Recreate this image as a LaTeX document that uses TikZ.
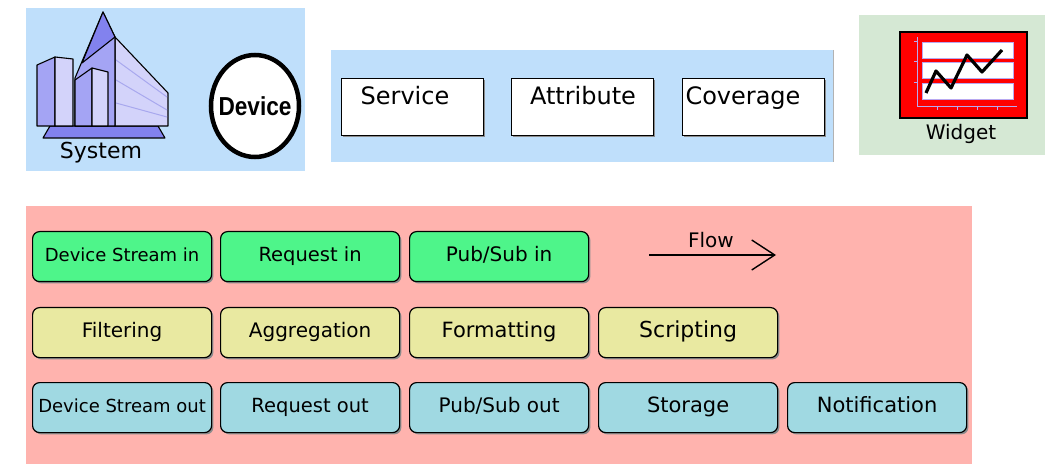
\documentclass[tikz,border=0pt]{standalone}
\usepackage{fontspec}
\setmainfont{DejaVu Sans}
\newfontfamily\devfont{Liberation Sans}
\usetikzlibrary{shadows,arrows.meta,shapes.geometric}
\definecolor{panelblue}{HTML}{BFDFFB}
\definecolor{panelgreen}{HTML}{D5E8D4}
\definecolor{panelpink}{HTML}{FFB3AE}
\definecolor{inbox}{HTML}{4EF58A}
\definecolor{procbox}{HTML}{E9E9A1}
\definecolor{outbox}{HTML}{A0D9E2}
\definecolor{bdark}{HTML}{8282EE}
\definecolor{bmid}{HTML}{A4A4F4}
\definecolor{blight}{HTML}{D3D3FA}
\definecolor{bline}{HTML}{A8A8EE}
\definecolor{lav}{HTML}{B8A8F0}
\tikzset{
  shade box/.style={drop shadow={shadow xshift=1.8pt,shadow yshift=-1.8pt,fill=black!45,opacity=1}},
  flowbox/.style={shade box,draw=black,line width=1.2pt,rounded corners=7pt,
    minimum width=179pt,minimum height=50pt,inner sep=0pt,anchor=north west,
    text height=0.9em,text depth=0pt,font=\fontsize{20}{22}\selectfont},
  entitybox/.style={shade box,draw=black,fill=white,line width=1.2pt,
    minimum width=142pt,minimum height=57pt,inner sep=0pt,anchor=north west},
  entitylabel/.style={anchor=base,inner sep=0pt,font=\fontsize{24}{26}\selectfont},
  building/.style={draw=black,line width=1.1pt,line join=round},
}
\begin{document}
\begin{tikzpicture}[x=1pt,y=-1pt]
\useasboundingbox (0,0) rectangle (1045,465);

% panels
\fill[panelblue] (26,8) rectangle (305,171);
\fill[panelblue] (331,50) rectangle (833,162);
\draw[black!30,line width=0.8pt] (833,50) -- (833,162);
\fill[panelgreen] (859,15) rectangle (1045,155);
\fill[panelpink] (26,206) rectangle (972,464);

% system icon
\draw[building,fill=bdark] (50,126) -- (158,126) -- (165,138) -- (43,138) -- cycle;
\draw[building,fill=blight] (115,37) -- (168,93) -- (168,126) -- (115,126) -- cycle;
\draw[bline,line width=1pt] (116,60) -- (167,97) (116,80) -- (167,110) (116,103) -- (167,117);
\draw[building,fill=bmid] (103,12) -- (115,37) -- (115,126) -- (75,126) -- (75,78) -- cycle;
\draw[building,fill=bdark] (103,12) -- (115,37) -- (82,63) -- cycle;
\draw[building,fill=bmid] (37,65) -- (55,57) -- (55,126) -- (37,126) -- cycle;
\draw[building,fill=blight] (55,57) -- (73,59) -- (73,126) -- (55,126) -- cycle;
\draw[building,fill=bmid] (75,80) -- (92,68) -- (92,126) -- (75,126) -- cycle;
\draw[building,fill=blight] (92,68) -- (108,72) -- (108,126) -- (92,126) -- cycle;
\node[anchor=base,inner sep=0pt,font=\fontsize{22}{24}\selectfont] (system) at (101,159) {System};

% device
\node[draw=black,fill=white,line width=4.5pt,ellipse,minimum width=88pt,minimum height=102pt,
  inner sep=0pt] (device) at (255,106) {};
\node[inner sep=0pt,font=\devfont\bfseries\fontsize{26}{28}\selectfont] (devicelabel) at (device.center) {\scalebox{0.87}[1]{Device}};

% entities
\node[entitybox] (service) at (341,78) {};
\node[entitylabel] (servicelabel) at (405,105) {Service};
\node[entitybox] (attribute) at (511,78) {};
\node[entitylabel] (attributelabel) at (583,105) {Attribute};
\node[entitybox] (coverage) at (682,78) {};
\node[entitylabel] (coveragelabel) at (743,105) {Coverage};

% widget icon
\draw[black,fill=red,line width=1.2pt] (900,32) rectangle (1027,118);
\foreach \ya/\yb in {42/58,62/78,83/99}
  \draw[lav,fill=white,line width=0.8pt] (922,\ya) rectangle (1013,\yb);
\draw[lav,line width=1pt] (917,37) -- (917,107) -- (1017,107);
\foreach \yy in {42,62,83} \draw[lav,line width=1pt] (914,\yy) -- (917,\yy);
\foreach \xx in {937,957,977,997} \draw[lav,line width=1pt] (\xx,107) -- (\xx,110);
\draw[black,line width=3.2pt,line join=round] (926,93) -- (936,71) -- (951,88) -- (967,55) -- (982,72) -- (1002,50);
\node[anchor=base,inner sep=0pt,font=\fontsize{20}{22}\selectfont] (widget) at (961,140) {Widget};

% input row
\node[flowbox,fill=inbox,font=\fontsize{18}{20}\selectfont] (dsin) at (32,231) {Device Stream in};
\node[flowbox,fill=inbox,font=\fontsize{19.5}{22}\selectfont] (reqin) at (220,231) {Request in};
\node[flowbox,fill=inbox] (psin) at (409,231) {Pub/Sub in};

% flow indicator
\coordinate (flowstart) at (649,255);
\coordinate (flowend) at (776,255);
\draw[line width=1.4pt,-{Straight Barb[length=23pt,width=30pt,line width=1.4pt]}] (flowstart) -- (flowend);
\node[anchor=base,inner sep=0pt,font=\fontsize{20}{22}\selectfont] (flow) at (711,248) {Flow};

% processing row
\node[flowbox,fill=procbox] (filter) at (32,307) {Filtering};
\node[flowbox,fill=procbox] (aggr) at (220,307) {Aggregation};
\node[flowbox,fill=procbox,font=\fontsize{21}{23}\selectfont] (format) at (409,307) {Formatting};
\node[flowbox,fill=procbox,font=\fontsize{22}{24}\selectfont] (script) at (598,307) {Scripting};

% output row
\node[flowbox,fill=outbox,font=\fontsize{18}{20}\selectfont] (dsout) at (32,382) {Device Stream out};
\node[flowbox,fill=outbox,font=\fontsize{19.5}{22}\selectfont] (reqout) at (220,382) {Request out};
\node[flowbox,fill=outbox] (psout) at (409,382) {Pub/Sub out};
\node[flowbox,fill=outbox,font=\fontsize{21}{23}\selectfont] (store) at (598,382) {Storage};
\node[flowbox,fill=outbox,font=\fontsize{21}{23}\selectfont] (notify) at (787,382) {Notification};
\end{tikzpicture}
\end{document}
